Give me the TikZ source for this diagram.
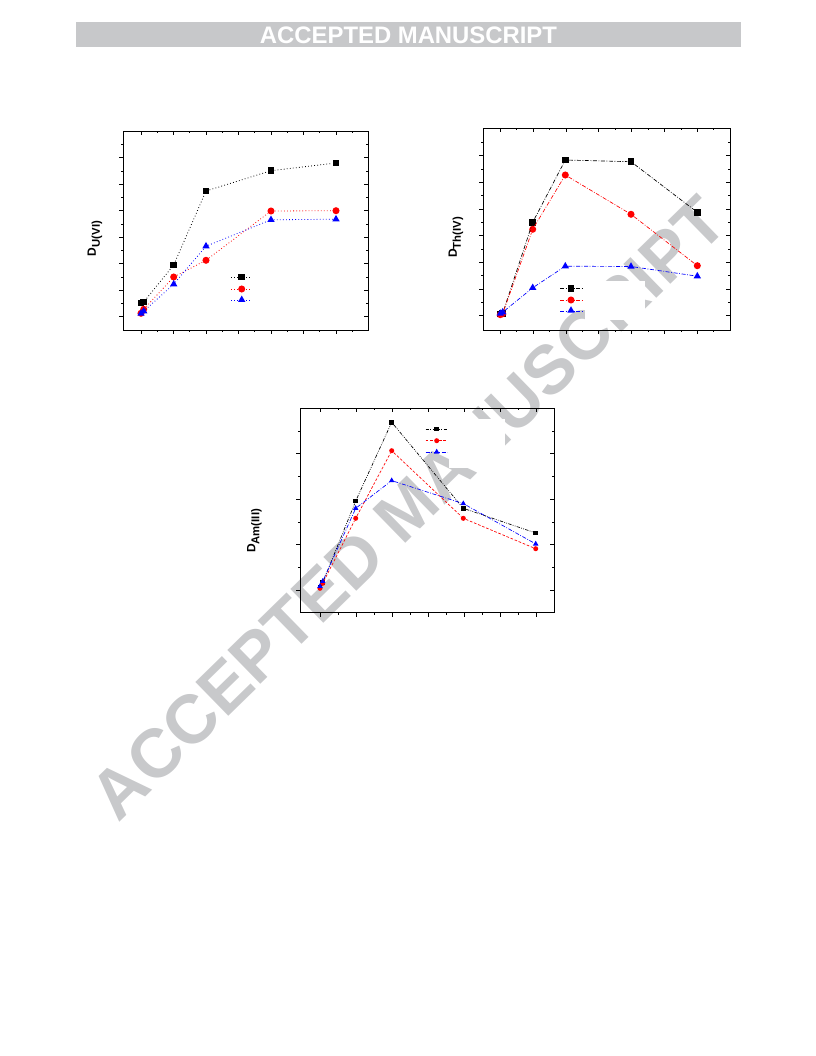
\documentclass[tikz,border=0pt]{standalone}
\usepackage{fontspec}
\setmainfont{Liberation Sans}
\usepackage{tikz}
\usetikzlibrary{shapes.geometric}
\definecolor{wmgray}{RGB}{200,201,203}
\definecolor{bannergray}{RGB}{199,200,202}
\tikzstyle{frame}     = [line width=0.75pt]
\tikzstyle{tick}      = [line width=0.5pt]
\tikzstyle{sq}        = [rectangle, fill=black, inner sep=0pt, minimum size=5pt]
\tikzstyle{ci}        = [circle, fill=red, inner sep=0pt, minimum size=5.3pt]
\tikzstyle{tri}       = [regular polygon, regular polygon sides=3, fill=blue, inner sep=0pt, minimum size=6.4pt]
\tikzstyle{sqsmall}   = [rectangle, fill=black, inner sep=0pt, minimum size=3.7pt]
\tikzstyle{cismall}   = [circle, fill=red, inner sep=0pt, minimum size=3.8pt]
\tikzstyle{trismall}  = [regular polygon, regular polygon sides=3, fill=blue, inner sep=0pt, minimum size=4.8pt]
\tikzstyle{dotline}   = [line width=0.6pt, dash pattern=on 0.6pt off 1.7pt]
\tikzstyle{dashdot}   = [line width=0.5pt, dash pattern=on 3pt off 1.2pt on 0.6pt off 1.2pt]
\tikzstyle{dashdotdot}= [line width=0.5pt, dash pattern=on 2.5pt off 1pt on 0.6pt off 1pt on 0.6pt off 1pt]
\tikzstyle{dashline}  = [line width=0.5pt, dash pattern=on 2pt off 1.3pt]
\tikzstyle{ylab}      = [rotate=90, inner sep=0pt, font=\fontsize{9}{9}\selectfont\bfseries]
\tikzstyle{labbox}    = [rectangle, fill=white, draw=none, inner sep=0pt]

\begin{document}
\begin{tikzpicture}[x=0.75pt,y=-0.75pt]
    \useasboundingbox (0,0) rectangle (816,1056);

    % watermark and banner
    \node[rotate=44.3, text=wmgray, inner sep=0pt, font=\fontsize{51.5}{52}\selectfont\bfseries] (wmark) at (408,508) {ACCEPTED MANUSCRIPT};
    \fill[bannergray] (76,22) rectangle (741,47);
    \node[text=white, inner sep=0pt, font=\fontsize{17.9}{18}\selectfont\bfseries] (banner) at (408.5,35) {ACCEPTED MANUSCRIPT};

    % legend backgrounds
    \node[labbox, minimum width=45pt, minimum height=29pt] (thbox) at (614.5,300.5) {};
    \node[labbox, minimum width=42pt, minimum height=37pt] (ambox) at (477,443.5) {};

    % D_U(VI)
    \draw[frame] (123,131) rectangle (368,330);
    \foreach \x in {141,173.5,206,238.5,271,303.5,336} {
        \draw[tick] (\x,330) -- (\x,334);
        \draw[tick] (\x,131) -- (\x,135);
    }
    \foreach \x in {157.25,189.75,222.25,254.75,287.25,319.75,352.25} {
        \draw[tick] (\x,330) -- (\x,332);
        \draw[tick] (\x,131) -- (\x,133);
    }
    \foreach \y in {157.7,184.3,210.7,237.3,263.7,290,316.7} {
        \draw[tick] (123,\y) -- (119,\y);
        \draw[tick] (368,\y) -- (364,\y);
    }
    \foreach \y in {144.4,171,197.5,224,250.5,277,303.4} {
        \draw[tick] (123,\y) -- (121,\y);
        \draw[tick] (368,\y) -- (366,\y);
    }
    \node[ylab] (ulab) at (95,238.5) {D\raisebox{-3pt}{\fontsize{8.5}{8.5}\selectfont U(VI)}};

    \node[sq] (ub1) at (141,303) {};
    \node[sq] (ub2) at (143.7,302) {};
    \node[sq] (ub3) at (173.7,265) {};
    \node[sq] (ub4) at (206,191) {};
    \node[sq] (ub5) at (271,170.7) {};
    \node[sq] (ub6) at (336,163) {};
    \node[ci] (ur1) at (141,313.3) {};
    \node[ci] (ur2) at (143.7,309.3) {};
    \node[ci] (ur3) at (173.7,277) {};
    \node[ci] (ur4) at (206,260.3) {};
    \node[ci] (ur5) at (271,211) {};
    \node[ci] (ur6) at (336,210.7) {};
    \node[tri] (ul1) at (141,313.5) {};
    \node[tri] (ul2) at (143.7,311.2) {};
    \node[tri] (ul3) at (173.7,284.2) {};
    \node[tri] (ul4) at (206,246.2) {};
    \node[tri] (ul5) at (271,219.8) {};
    \node[tri] (ul6) at (336,219.2) {};
    \draw[dotline, black] (ub2) -- (ub3) -- (ub4) -- (ub5) -- (ub6);
    \draw[dotline, red] (ur2) -- (ur3) -- (ur4) -- (ur5) -- (ur6);
    \draw[dotline, blue] (ul2) -- (ul3) -- (ul4) -- (ul5) -- (ul6);

    \coordinate (lu1a) at (231,277);   \coordinate (lu1b) at (251,277);
    \coordinate (lu2a) at (231,289);   \coordinate (lu2b) at (251,289);
    \coordinate (lu3a) at (231,300.3); \coordinate (lu3b) at (251,300.3);
    \draw[dotline, black] (lu1a) -- (lu1b);
    \draw[dotline, red] (lu2a) -- (lu2b);
    \draw[dotline, blue] (lu3a) -- (lu3b);
    \node[sq] (lu1) at (241.7,277) {};
    \node[ci] (lu2) at (241.7,289) {};
    \node[tri] (lu3) at (241.7,299.8) {};

    % D_Th(IV)
    \draw[frame] (483.3,128.3) rectangle (730,330);
    \foreach \x in {500.3,533.1,566,598.8,631.6,664.5,697.3} {
        \draw[tick] (\x,330) -- (\x,334);
        \draw[tick] (\x,128.3) -- (\x,132.3);
    }
    \foreach \x in {516.7,549.5,582.4,615.2,648,680.9,713.7} {
        \draw[tick] (\x,330) -- (\x,332);
        \draw[tick] (\x,128.3) -- (\x,130.3);
    }
    \foreach \y in {155.7,182.3,209,235.7,262.3,289,315.7} {
        \draw[tick] (483.3,\y) -- (479.3,\y);
        \draw[tick] (730,\y) -- (726,\y);
    }
    \foreach \y in {142.3,169,195.7,222.3,249,275.7,302.3} {
        \draw[tick] (483.3,\y) -- (481.3,\y);
        \draw[tick] (730,\y) -- (728,\y);
    }
    \node[ylab] (thlab) at (456,237.5) {D\raisebox{-3pt}{\fontsize{8.5}{8.5}\selectfont Th(IV)}};

    \node[sq] (tb1) at (500.3,314) {};
    \node[sq] (tb2) at (502.7,313.3) {};
    \node[sq] (tb3) at (532.7,222.3) {};
    \node[sq] (tb4) at (565.3,160) {};
    \node[sq] (tb5) at (631,161.7) {};
    \node[sq] (tb6) at (697.3,212.3) {};
    \node[ci] (tr1) at (500.3,314.7) {};
    \node[ci] (tr2) at (502.7,313.7) {};
    \node[ci] (tr3) at (532.7,229.3) {};
    \node[ci] (tr4) at (565.3,175) {};
    \node[ci] (tr5) at (631,214.3) {};
    \node[ci] (tr6) at (697.3,265.7) {};
    \node[tri] (tl1) at (500.3,313.5) {};
    \node[tri] (tl2) at (502.7,312.2) {};
    \node[tri] (tl3) at (532.7,287.8) {};
    \node[tri] (tl4) at (565.3,266.2) {};
    \node[tri] (tl5) at (631,266.5) {};
    \node[tri] (tl6) at (697.3,276.2) {};
    \draw[dashdot, black] (tb2) -- (tb3) -- (tb4) -- (tb5) -- (tb6);
    \draw[dashdot, red] (tr2) -- (tr3) -- (tr4) -- (tr5) -- (tr6);
    \draw[dashdot, blue] (tl2) -- (tl3) -- (tl4) -- (tl5) -- (tl6);

    \coordinate (lt1a) at (560,288.3); \coordinate (lt1b) at (582,288.3);
    \coordinate (lt2a) at (560,300);   \coordinate (lt2b) at (582,300);
    \coordinate (lt3a) at (560,311);   \coordinate (lt3b) at (582,311);
    \draw[dashdot, black] (lt1a) -- (lt1b);
    \draw[dashdot, red] (lt2a) -- (lt2b);
    \draw[dashdot, blue] (lt3a) -- (lt3b);
    \node[sq] (lt1) at (571,288.3) {};
    \node[ci] (lt2) at (571,300) {};
    \node[tri] (lt3) at (571,310.5) {};

    % D_Am(III)
    \draw[frame] (300,408.3) rectangle (554,612.7);
    \foreach \x in {320,356,392,428,464,500,536} {
        \draw[tick] (\x,612.7) -- (\x,616.7);
        \draw[tick] (\x,408.3) -- (\x,412.3);
    }
    \foreach \x in {338,374,410,446,482,518} {
        \draw[tick] (\x,612.7) -- (\x,614.7);
        \draw[tick] (\x,408.3) -- (\x,410.3);
    }
    \foreach \y in {453.7,499.3,544.7,590} {
        \draw[tick] (300,\y) -- (296,\y);
        \draw[tick] (554,\y) -- (550,\y);
    }
    \foreach \y in {431,476.3,522,567.3} {
        \draw[tick] (300,\y) -- (298,\y);
        \draw[tick] (554,\y) -- (552,\y);
    }
    \node[ylab] (amlab) at (254.5,531) {D\raisebox{-3pt}{\fontsize{8.5}{8.5}\selectfont Am(III)}};

    \node[sqsmall] (ab1) at (320,587.3) {};
    \node[sqsmall] (ab2) at (322.7,582.7) {};
    \node[sqsmall] (ab3) at (355.7,501) {};
    \node[sqsmall] (ab4) at (391.7,422.3) {};
    \node[sqsmall] (ab5) at (463.3,508.3) {};
    \node[sqsmall] (ab6) at (535.7,533) {};
    \node[cismall] (ar1) at (320,588.3) {};
    \node[cismall] (ar2) at (322.7,583.3) {};
    \node[cismall] (ar3) at (355.7,518.3) {};
    \node[cismall] (ar4) at (391.7,450.7) {};
    \node[cismall] (ar5) at (463.3,518.3) {};
    \node[cismall] (ar6) at (535.7,548.7) {};
    \node[trismall] (al1) at (320,586.3) {};
    \node[trismall] (al2) at (322.7,581.3) {};
    \node[trismall] (al3) at (355.7,508.3) {};
    \node[trismall] (al4) at (391.7,480.6) {};
    \node[trismall] (al5) at (463.3,503.6) {};
    \node[trismall] (al6) at (535.7,543.9) {};
    \draw[dashdotdot, black] (ab2) -- (ab3) -- (ab4) -- (ab5) -- (ab6);
    \draw[dashline, red] (ar2) -- (ar3) -- (ar4) -- (ar5) -- (ar6);
    \draw[dashdot, blue] (al2) -- (al3) -- (al4) -- (al5) -- (al6);

    \coordinate (la1a) at (425.7,429);   \coordinate (la1b) at (447.3,429);
    \coordinate (la2a) at (425.7,440.7); \coordinate (la2b) at (447.3,440.7);
    \coordinate (la3a) at (425.7,452.3); \coordinate (la3b) at (447.3,452.3);
    \draw[dashdotdot, black] (la1a) -- (la1b);
    \draw[dashline, red] (la2a) -- (la2b);
    \draw[dashdot, blue] (la3a) -- (la3b);
    \node[sqsmall] (la1) at (436.7,429) {};
    \node[cismall] (la2) at (436.7,440.7) {};
    \node[trismall] (la3) at (436.7,451.9) {};
\end{tikzpicture}
\end{document}
